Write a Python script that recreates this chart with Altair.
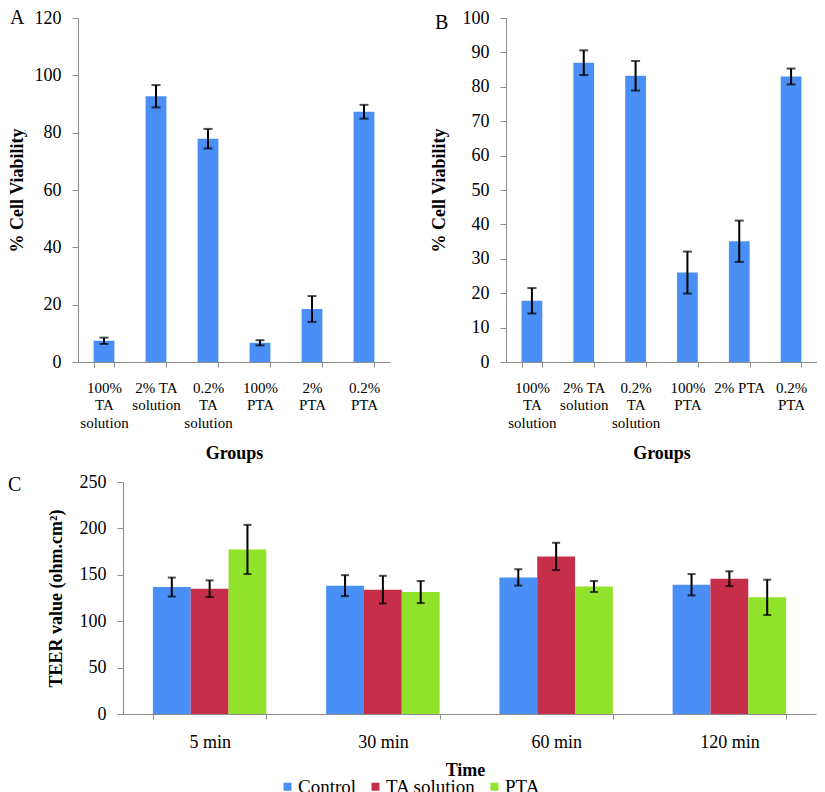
import altair as alt
import pandas as pd

# ---------------- data ----------------
groups = ["100% TA solution", "2% TA solution", "0.2% TA solution",
          "100% PTA", "2% PTA", "0.2% PTA"]
labels_a = [["100%", "TA", "solution"], ["2% TA", "solution"], ["0.2%", "TA", "solution"],
            ["100%", "PTA"], ["2%", "PTA"], ["0.2%", "PTA"]]
labels_b = [["100%", "TA", "solution"], ["2% TA", "solution"], ["0.2%", "TA", "solution"],
            ["100%", "PTA"], ["2% PTA"], ["0.2%", "PTA"]]

viability_a = [7.4, 92.7, 77.9, 6.7, 18.5, 87.3]
error_a = [1.1, 3.9, 3.4, 0.9, 4.5, 2.4]
viability_b = [17.8, 87.0, 83.2, 26.0, 35.1, 83.0]
error_b = [3.7, 3.6, 4.3, 6.1, 6.0, 2.3]

times = ["5 min", "30 min", "60 min", "120 min"]
series = ["Control", "TA solution", "PTA"]
teer_control = [136.8, 138.3, 147.2, 139.3]
err_control = [10.2, 11.3, 8.8, 11.5]
teer_ta = [135.0, 134.0, 169.8, 145.8]
err_ta = [9.0, 14.9, 14.7, 8.0]
teer_pta = [177.3, 131.4, 137.5, 125.7]
err_pta = [26.5, 11.9, 5.9, 19.0]

# ---------------- style ----------------
FONT = "Liberation Serif"
BLUE = "#4A8FF5"
RED = "#C72E4A"
GREEN = "#91E22B"
GRAY = "#8C8C8C"


def label_expr(lbls):
    arr = "[" + ",".join("[" + ",".join("'%s'" % s for s in l) + "]" for l in lbls) + "]"
    g = "[" + ",".join("'%s'" % s for s in groups) + "]"
    return "%s[indexof(%s, datum.value)]" % (arr, g)


def viability_panel(means, errs, lbls, ymax, step, letter, width, height,
                    title_x, letter_x, letter_y):
    df = pd.DataFrame({
        "group": groups,
        "mean": means,
        "lo": [m - e for m, e in zip(means, errs)],
        "hi": [m + e for m, e in zip(means, errs)],
    })
    xaxis = alt.Axis(title="Groups", labelExpr=label_expr(lbls), labelAngle=0,
                     labelFontSize=15, labelLineHeight=17.5, labelPadding=13,
                     labelOverlap=False, labelBaseline="top",
                     tickBand="extent", tickSize=5, titleY=82,
                     titleFontSize=18, titleFontWeight="bold")
    xscale = alt.Scale(paddingInner=0.6, paddingOuter=0.3)
    yaxis = alt.Axis(title="% Cell Viability", values=list(range(0, ymax + 1, step)),
                     labelFontSize=18, labelPadding=11, tickSize=6,
                     titleX=title_x, titleFontSize=18, titleFontWeight="bold")
    yscale = alt.Scale(domain=[0, ymax], nice=False)
    x = alt.X("group:N", sort=groups, scale=xscale, axis=xaxis)

    bars = alt.Chart(df).mark_bar(color=BLUE).encode(
        x=x, y=alt.Y("mean:Q", scale=yscale, axis=yaxis))
    rule = alt.Chart(df).mark_rule(color="black", strokeWidth=2).encode(
        x=x, y=alt.Y("lo:Q", scale=yscale, axis=yaxis), y2="hi:Q")
    cap_lo = alt.Chart(df).mark_tick(color="black", size=9, thickness=2).encode(
        x=x, y=alt.Y("lo:Q", scale=yscale, axis=yaxis))
    cap_hi = alt.Chart(df).mark_tick(color="black", size=9, thickness=2).encode(
        x=x, y=alt.Y("hi:Q", scale=yscale, axis=yaxis))
    txt = alt.Chart(pd.DataFrame({"t": [letter]})).mark_text(
        font=FONT, fontSize=20, align="left", baseline="alphabetic", color="black"
    ).encode(text="t:N", x=alt.value(letter_x), y=alt.value(letter_y))
    return alt.layer(bars, rule, cap_lo, cap_hi, txt).properties(width=width, height=height)


panel_a = viability_panel(viability_a, error_a, labels_a, 120, 20, "A", 312, 344, -52, -68, 6)
panel_b = viability_panel(viability_b, error_b, labels_b, 100, 10, "B", 311, 344, -58, -71, 11)

# ---------------- panel C ----------------
rows = []
for s, vals, errs in [("Control", teer_control, err_control),
                      ("TA solution", teer_ta, err_ta),
                      ("PTA", teer_pta, err_pta)]:
    for t, v, e in zip(times, vals, errs):
        rows.append({"time": t, "series": s, "value": v, "lo": v - e, "hi": v + e})
dfc = pd.DataFrame(rows)

C_W = 738
C_SHIFT = 45
cx_axis = alt.Axis(title="Time", labelAngle=0, labelFontSize=18, labelPadding=14.5,
                   labelBaseline="top", tickBand="extent", tickSize=5, titleY=47,
                   titleX=387, titleFontSize=18, titleFontWeight="bold")
cx = alt.X("time:N", sort=times,
           scale=alt.Scale(paddingInner=0.345, paddingOuter=0.1725, range=[C_SHIFT, C_W]),
           axis=cx_axis)
cxo = alt.XOffset("series:N", sort=series, scale=alt.Scale(paddingInner=0, paddingOuter=0))
cy_axis = alt.Axis(title="TEER value (ohm.cm²)", values=list(range(0, 251, 50)),
                   labelFontSize=18, labelPadding=11, tickSize=6, titleX=-58,
                   offset=-C_SHIFT, titleFontSize=18, titleFontWeight="bold")
cy_scale = alt.Scale(domain=[0, 250], nice=False)

c_bars = alt.Chart(dfc).mark_bar().encode(
    x=cx, xOffset=cxo,
    y=alt.Y("value:Q", scale=cy_scale, axis=cy_axis),
    color=alt.Color("series:N", sort=series,
                    scale=alt.Scale(domain=series, range=[BLUE, RED, GREEN]),
                    legend=alt.Legend(orient="none", legendX=200, legendY=759,
                                      direction="horizontal", title=None,
                                      symbolType="square", symbolSize=64,
                                      symbolStrokeWidth=0, labelFontSize=19,
                                      labelFont=FONT, labelOffset=1,
                                      columnPadding=9, padding=0)),
)
c_rule = alt.Chart(dfc).mark_rule(color="black", strokeWidth=2).encode(
    x=cx, xOffset=cxo, y=alt.Y("lo:Q", scale=cy_scale, axis=cy_axis), y2="hi:Q")
c_lo = alt.Chart(dfc).mark_tick(color="black", size=8, thickness=2).encode(
    x=cx, xOffset=cxo, y=alt.Y("lo:Q", scale=cy_scale, axis=cy_axis))
c_hi = alt.Chart(dfc).mark_tick(color="black", size=8, thickness=2).encode(
    x=cx, xOffset=cxo, y=alt.Y("hi:Q", scale=cy_scale, axis=cy_axis))
c_txt = alt.Chart(pd.DataFrame({"t": ["C"]})).mark_text(
    font=FONT, fontSize=20, align="left", baseline="alphabetic", color="black"
).encode(text="t:N", x=alt.value(-70), y=alt.value(9))
panel_c = alt.layer(c_bars, c_rule, c_lo, c_hi, c_txt).properties(width=C_W, height=232)

top = alt.hconcat(panel_a, panel_b, spacing=40)
chart = alt.vconcat(top, panel_c, spacing=11).properties(padding=0)
chart = chart.configure(font=FONT).configure_view(stroke=None).configure_axis(
    domainColor=GRAY, tickColor=GRAY, labelColor="black", titleColor="black",
    grid=False, labelFont=FONT, titleFont=FONT
).configure_legend(labelColor="black", labelFont=FONT)

chart.save("out.html", embed_options={"renderer": "svg", "actions": False})
